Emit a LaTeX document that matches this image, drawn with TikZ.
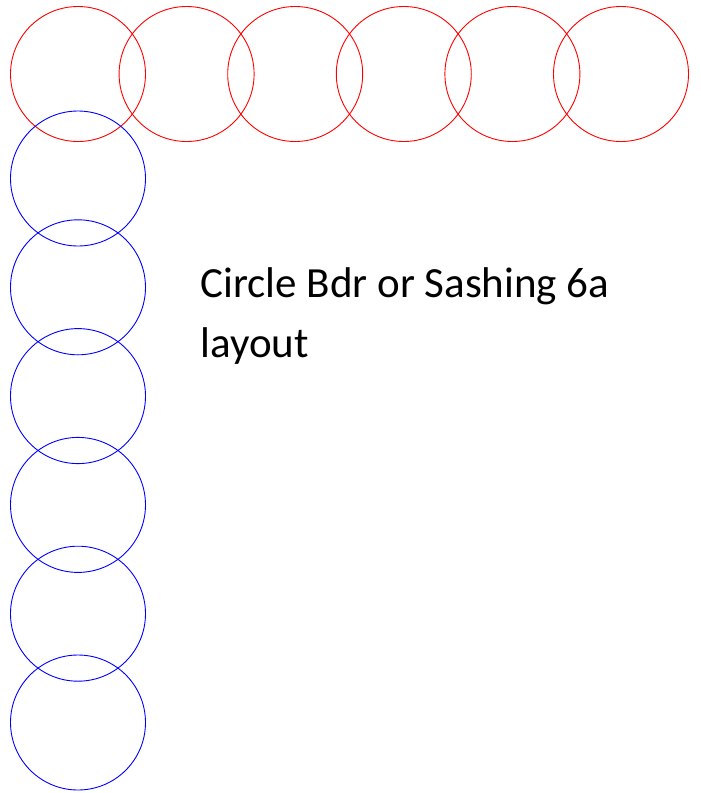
\documentclass[tikz,border=0pt]{standalone}
\usepackage{fontspec}
\setmainfont{Carlito}
\begin{document}
\begin{tikzpicture}[x=1pt,y=-1pt,line width=0.9pt]
\useasboundingbox (0,0) rectangle (701,793);
\foreach \i in {0,...,5} {\draw[red] (78+108.6*\i,74) circle (67.5);}
\foreach \j in {0,...,5} {\draw[blue] (78,178.5+108.8*\j) circle (67.5);}
\node[anchor=base west,inner sep=0,align=left,font=\fontsize{43}{60}\selectfont] (title) at (200,357) {Circle Bdr or Sashing 6a\\layout};
\end{tikzpicture}
\end{document}
